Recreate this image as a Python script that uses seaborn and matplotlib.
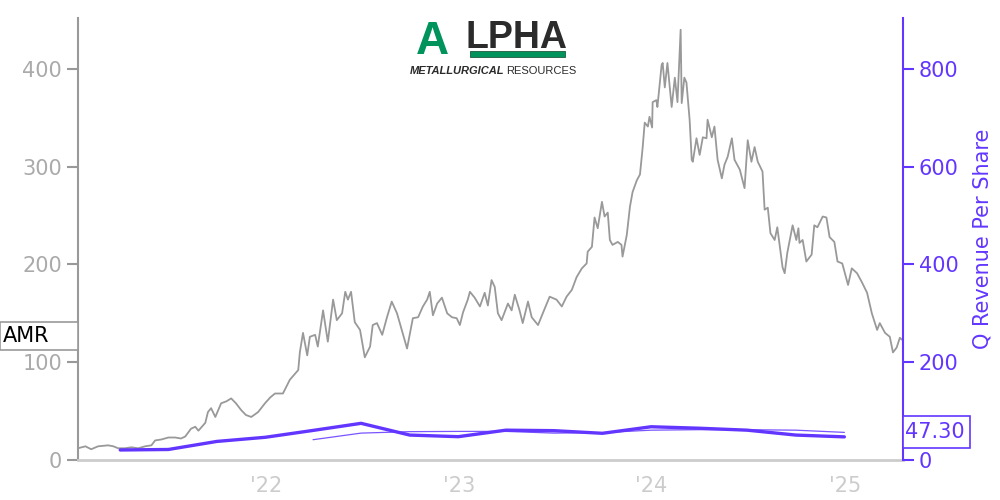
import pandas as pd
import seaborn as sns
import matplotlib.pyplot as plt
import matplotlib.dates as mdates
from matplotlib.patches import Rectangle

# AMR daily close
price_dates = [
    '2021-01-10', '2021-01-24', '2021-02-04', '2021-02-17', '2021-03-08', '2021-03-18', '2021-03-27',
    '2021-04-09', '2021-04-21', '2021-05-04', '2021-05-17', '2021-05-29', '2021-06-05', '2021-06-17',
    '2021-06-30', '2021-07-13', '2021-07-24', '2021-08-01', '2021-08-12', '2021-08-20', '2021-08-26',
    '2021-09-08', '2021-09-13', '2021-09-19', '2021-09-27', '2021-10-08', '2021-10-18', '2021-10-27',
    '2021-11-05', '2021-11-15', '2021-11-24', '2021-12-04', '2021-12-17', '2021-12-30',
    '2022-01-09', '2022-01-18', '2022-02-02', '2022-02-15', '2022-03-03', '2022-03-06', '2022-03-12',
    '2022-03-20', '2022-03-25', '2022-04-04', '2022-04-09', '2022-04-19', '2022-04-28', '2022-05-08',
    '2022-05-15', '2022-05-25', '2022-05-31', '2022-06-05', '2022-06-11', '2022-06-18', '2022-06-28',
    '2022-07-07', '2022-07-17', '2022-07-22', '2022-07-30', '2022-08-09', '2022-08-18', '2022-08-27',
    '2022-09-06', '2022-09-15', '2022-09-25', '2022-10-06', '2022-10-16', '2022-10-25', '2022-11-02',
    '2022-11-07', '2022-11-13', '2022-11-21', '2022-11-30', '2022-12-10', '2022-12-19', '2022-12-28',
    '2023-01-03', '2023-01-09', '2023-01-18', '2023-01-22', '2023-01-31', '2023-02-10', '2023-02-19',
    '2023-02-25', '2023-03-04', '2023-03-10', '2023-03-16', '2023-03-23', '2023-04-04', '2023-04-11',
    '2023-04-17', '2023-04-26', '2023-05-02', '2023-05-12', '2023-05-19', '2023-05-31', '2023-06-09',
    '2023-06-22', '2023-07-05', '2023-07-15', '2023-07-24', '2023-08-03', '2023-08-12', '2023-08-22',
    '2023-08-31', '2023-09-02', '2023-09-10', '2023-09-15', '2023-09-21', '2023-09-29', '2023-10-04',
    '2023-10-10', '2023-10-14', '2023-10-19', '2023-10-29', '2023-11-05', '2023-11-07', '2023-11-15',
    '2023-11-21', '2023-11-26', '2023-12-04', '2023-12-10', '2023-12-15', '2023-12-19', '2023-12-25',
    '2023-12-28', '2024-01-02', '2024-01-03', '2024-01-10', '2024-01-12', '2024-01-20', '2024-01-22',
    '2024-01-26', '2024-01-31', '2024-02-08', '2024-02-14', '2024-02-19', '2024-02-25', '2024-02-27',
    '2024-03-03', '2024-03-07', '2024-03-13', '2024-03-17', '2024-03-19', '2024-03-26', '2024-04-01',
    '2024-04-07', '2024-04-14', '2024-04-16', '2024-04-24', '2024-04-29', '2024-05-05', '2024-05-13',
    '2024-05-18', '2024-05-24', '2024-06-01', '2024-06-06', '2024-06-16', '2024-06-25', '2024-07-01',
    '2024-07-08', '2024-07-14', '2024-07-20', '2024-07-29', '2024-08-02', '2024-08-08', '2024-08-13',
    '2024-08-21', '2024-08-26', '2024-09-05', '2024-09-09', '2024-09-14', '2024-09-24', '2024-10-01',
    '2024-10-05', '2024-10-07', '2024-10-13', '2024-10-20', '2024-10-30', '2024-11-04', '2024-11-10',
    '2024-11-20', '2024-11-27', '2024-12-03', '2024-12-12', '2024-12-18', '2024-12-27',
    '2025-01-07', '2025-01-14', '2025-01-24', '2025-02-02', '2025-02-12', '2025-02-21', '2025-03-03',
    '2025-03-08', '2025-03-18', '2025-03-27', '2025-04-02', '2025-04-09', '2025-04-15', '2025-04-19',
]
price_values = [
    12, 14, 11, 14, 15, 14, 12,
    12, 13, 12, 14, 15, 20, 21,
    23, 23, 22, 24, 32, 34, 30,
    38, 49, 53, 44, 58, 60, 63,
    58, 51, 46, 44, 49, 58,
    64, 68, 68, 82, 92, 110, 130,
    107, 126, 128, 116, 153, 121, 164,
    143, 150, 172, 164, 172, 141, 133,
    105, 116, 138, 140, 128, 146, 162,
    150, 133, 114, 145, 146, 157, 164,
    172, 148, 160, 166, 150, 146, 145,
    138, 151, 164, 172, 166, 157, 171,
    158, 184, 177, 150, 143, 160, 153,
    169, 153, 140, 162, 146, 138, 150,
    167, 164, 157, 167, 174, 187, 196,
    201, 213, 218, 248, 237, 264, 249,
    253, 225, 220, 223, 220, 208, 230,
    259, 274, 286, 292, 319, 345, 341,
    351, 340, 366, 368, 361, 404, 406,
    381, 406, 361, 391, 366, 440, 365,
    391, 386, 348, 307, 305, 329, 312,
    330, 329, 348, 330, 341, 307, 288,
    302, 310, 329, 307, 297, 278, 327,
    305, 320, 305, 295, 256, 258, 232,
    225, 238, 197, 191, 212, 240, 225,
    237, 222, 225, 203, 210, 240, 238,
    249, 248, 228, 223, 203, 201,
    179, 196, 191, 182, 171, 150, 133,
    140, 130, 126, 110, 115, 125, 123,
]

# quarterly revenue per share
quarter_ends = ['2021-03-31', '2021-06-30', '2021-09-30', '2021-12-31',
                '2022-03-31', '2022-06-30', '2022-09-30', '2022-12-31',
                '2023-03-31', '2023-06-30', '2023-09-30', '2023-12-31',
                '2024-03-31', '2024-06-30', '2024-09-30', '2024-12-31']
rev_per_share = [20.5, 21.5, 38, 46.5, 60.5, 75, 51, 47.7,
                 61, 60, 54.6, 68, 65, 61, 51, 47.30]
# trailing 4-quarter average (starts Q1'22)
avg_ends = quarter_ends[4:]
avg_rev = [41.5, 55, 58, 58.5, 58.5, 55, 56, 61, 62, 62, 61, 56.5]

ticker = 'AMR'
grey = '#999999'
purple = '#6236FF'

price_df = pd.DataFrame({'date': pd.to_datetime(price_dates), 'close': price_values})
rev_df = pd.DataFrame({'date': pd.to_datetime(quarter_ends), 'rps': rev_per_share})
avg_df = pd.DataFrame({'date': pd.to_datetime(avg_ends), 'rps': avg_rev})

sns.set_style('white')
plt.rcParams['font.family'] = ['DejaVu Sans']

fig = plt.figure(figsize=(10, 5), dpi=100)
ax = fig.add_axes([0.078, 0.08, 0.825, 0.884])
ax2 = ax.twinx()

sns.lineplot(data=price_df, x='date', y='close', ax=ax, color=grey, linewidth=1.3)
sns.lineplot(data=avg_df, x='date', y='rps', ax=ax2, color=purple, linewidth=0.9, alpha=0.85)
sns.lineplot(data=rev_df, x='date', y='rps', ax=ax2, color=purple, linewidth=2.4)

ax.set_xlim(pd.Timestamp('2021-01-10'), pd.Timestamp('2025-04-21'))
ax.set_ylim(0, 452)
ax2.set_ylim(0, 904)
ax.set_yticks([0, 100, 200, 300, 400])
ax2.set_yticks([0, 200, 400, 600, 800])
ax.xaxis.set_major_locator(mdates.YearLocator(month=1, day=1))
ax.xaxis.set_major_formatter(mdates.DateFormatter("'%y"))
ax.set_xlabel('')
ax.set_ylabel('')

for s in ['top', 'right']:
    ax.spines[s].set_visible(False)
ax.spines['left'].set_color(grey)
ax.spines['left'].set_linewidth(1.5)
ax.spines['bottom'].set_color('#cccccc')
ax.spines['bottom'].set_linewidth(2)
ax.tick_params(axis='y', colors=grey, labelcolor='#aaaaaa', labelsize=15, length=8, width=1.5)
ax.tick_params(axis='x', colors='#cccccc', labelcolor='#cccccc', labelsize=15, length=8, width=2)

for s in ['top', 'left', 'bottom']:
    ax2.spines[s].set_visible(False)
ax2.spines['right'].set_color(purple)
ax2.spines['right'].set_linewidth(1.5)
ax2.tick_params(axis='y', colors=purple, labelsize=15, length=8, width=1.5)
ax2.set_ylabel('Q Revenue Per Share', color=purple, fontsize=15, labelpad=10)

# ticker / last value tags
fig.patches.append(Rectangle((0.0, 0.30), 0.078, 0.056, transform=fig.transFigure,
                             facecolor='white', edgecolor=grey, linewidth=1.2))
fig.text(0.003, 0.328, ticker, fontsize=15, color='black', va='center', ha='left')
fig.patches.append(Rectangle((0.903, 0.104), 0.067, 0.064, transform=fig.transFigure,
                             facecolor='white', edgecolor=purple, linewidth=1.2))
fig.text(0.905, 0.136, f'{rev_per_share[-1]:.2f}', fontsize=15, color=purple, va='center', ha='left')

# logo
green = '#00935C'
fig.text(0.416, 0.892, 'A', fontsize=33, fontweight='bold', color=green,
         family='Liberation Sans', va='baseline')
fig.text(0.466, 0.904, 'LPHA', fontsize=27, fontweight='bold', color='#2b2b2b',
         family='Liberation Sans', va='baseline')
fig.patches.append(Rectangle((0.47, 0.886), 0.095, 0.011, transform=fig.transFigure,
                             facecolor=green, edgecolor='#1d5c3c', linewidth=0.6))
fig.text(0.41, 0.852, 'METALLURGICAL', fontsize=8, fontweight='bold', style='italic',
         color='#2b2b2b', family='Liberation Sans', va='baseline')
fig.text(0.506, 0.852, 'RESOURCES', fontsize=8, color='#2b2b2b',
         family='Liberation Sans', va='baseline')

fig.savefig('out.png', dpi=100)
